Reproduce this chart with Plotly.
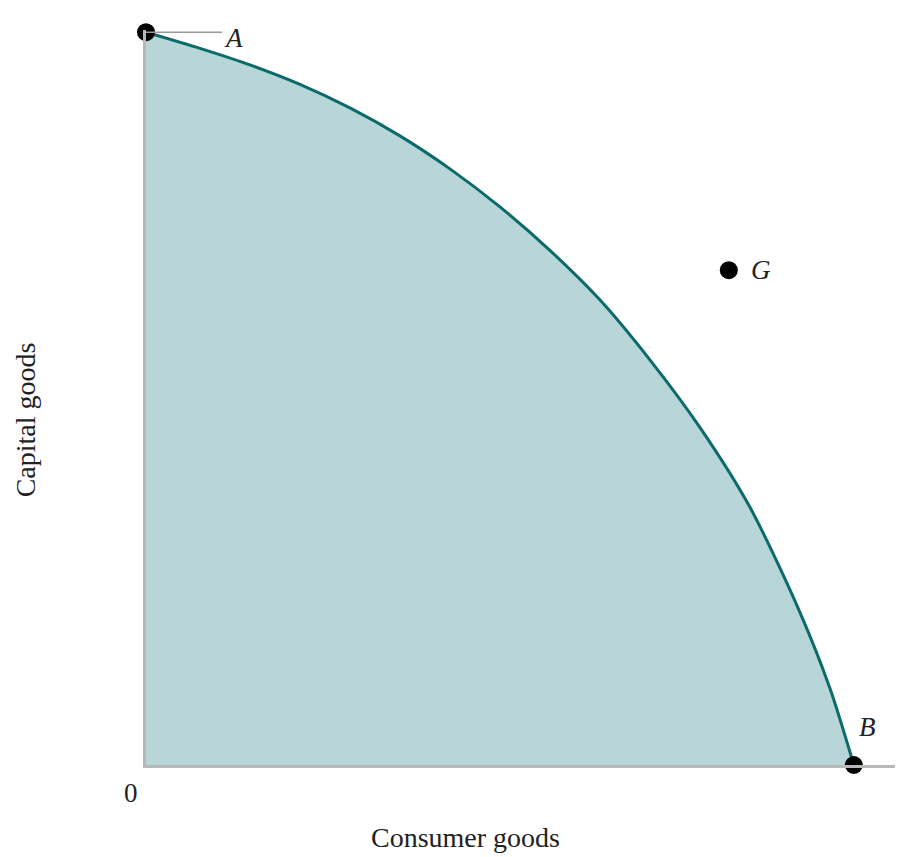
import plotly.graph_objects as go

# Production possibilities frontier (consumer goods vs capital goods)
ppf_x = [0.0, 0.763, 1.469, 2.175, 2.881, 3.588, 4.294, 5.000, 5.706, 6.412, 7.119, 7.825, 8.531, 9.237, 9.661, 10.0]
ppf_y = [10.0, 9.779, 9.554, 9.288, 8.967, 8.585, 8.135, 7.617, 7.023, 6.348, 5.529, 4.608, 3.520, 2.087, 1.050, 0.0]

point_labels = ["A", "B", "G"]
point_x = [0.0, 10.0, 8.234]
point_y = [10.0, 0.0, 6.753]

x_title = "Consumer goods"
y_title = "Capital goods"
origin_label = "0"

FONT = "Liberation Serif"
TEAL = "#0b6b6b"
FILL = "#b8d5d8"
AXIS = "#b8b8b8"
TEXT = "#222222"

fig = go.Figure()

# frontier curve with the shaded region beneath it
fig.add_trace(go.Scatter(
    x=ppf_x, y=ppf_y, mode="lines", fill="tozeroy", fillcolor=FILL,
    line=dict(color=TEAL, width=3, shape="spline", smoothing=0.8),
    showlegend=False, cliponaxis=False, hoverinfo="skip"))

# leader line for A
fig.add_shape(type="line", x0=point_x[0], y0=point_y[0], x1=point_x[0] + 1.073, y1=point_y[0],
              line=dict(color="#9a9a9a", width=1.5), layer="above")

# points
fig.add_trace(go.Scatter(
    x=point_x, y=point_y, mode="markers",
    marker=dict(color="black", size=18), showlegend=False, cliponaxis=False))

# point labels
offsets = {"A": (1.243, -0.082), "B": (0.198, 0.518), "G": (0.456, 0.0)}
for lab, px, py in zip(point_labels, point_x, point_y):
    dx, dy = offsets[lab]
    fig.add_annotation(x=px + dx, y=py + dy, text=f"<i>{lab}</i>", showarrow=False,
                       font=dict(family=FONT, size=27, color=TEXT), xanchor="center", yanchor="middle")

fig.add_annotation(x=0, y=0, xref="x", yref="y", text=origin_label, showarrow=False,
                   xshift=-15, yshift=-28, font=dict(family=FONT, size=27, color=TEXT),
                   xanchor="center", yanchor="middle")

# axis titles
fig.add_annotation(x=0.426, y=-0.0993, xref="paper", yref="paper", text=x_title, showarrow=False,
                   font=dict(family=FONT, size=28, color=TEXT), xanchor="center", yanchor="middle")
fig.add_annotation(x=-0.161, y=0.469, xref="paper", yref="paper", text=y_title, showarrow=False,
                   textangle=-90, font=dict(family=FONT, size=28, color=TEXT),
                   xanchor="center", yanchor="middle")

# page body adds an 8px offset, so the figure is sized to fit the window after it
fig.update_layout(
    width=895, height=849,
    margin=dict(l=138, r=6, t=22, b=92, autoexpand=False),
    plot_bgcolor="white", paper_bgcolor="white",
    showlegend=False,
    xaxis=dict(range=[0, 10.61], showgrid=False, zeroline=False, showticklabels=False,
               ticks="", showline=True, linecolor=AXIS, linewidth=2.5, automargin=False),
    yaxis=dict(range=[0, 10.03], showgrid=False, zeroline=False, showticklabels=False,
               ticks="", showline=True, linecolor=AXIS, linewidth=2.5, automargin=False),
)

fig.write_html("out.html")
